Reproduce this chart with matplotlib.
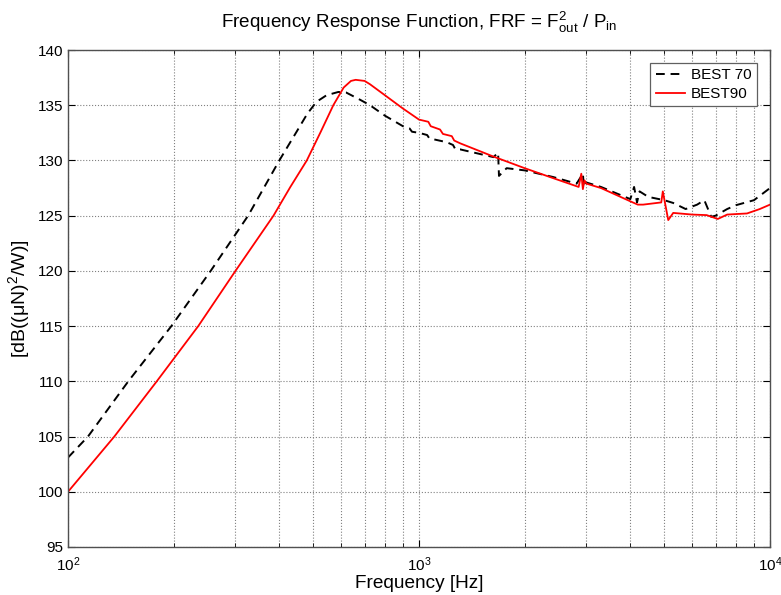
import matplotlib
matplotlib.use("Agg")
import matplotlib.pyplot as plt
from matplotlib.ticker import LogLocator, NullFormatter, MultipleLocator

plt.rcParams['font.family'] = ['Liberation Sans', 'DejaVu Sans']
plt.rcParams['mathtext.fontset'] = 'custom'
plt.rcParams['mathtext.rm'] = 'Liberation Sans'
plt.rcParams['mathtext.it'] = 'Liberation Sans:italic'
plt.rcParams['mathtext.default'] = 'regular'

# BEST 70 measured response
best70_freq = [100, 114, 148.5, 197, 255, 326, 400, 448, 480, 510, 545, 589, 620,
               679, 725, 800, 900, 940, 955, 1000, 1055, 1070, 1200, 1250, 1270,
               1310, 1630, 1680, 1690, 1777, 2000, 2410, 2812, 2930, 2950, 3000,
               3300, 4000, 4100, 4180, 4250, 4500, 5000, 5300, 5750, 6200, 6500,
               6800, 7000, 7550, 8000, 9000, 10000]
best70_db = [103.1, 105.0, 110.0, 115.0, 120.0, 125.0, 130.0, 132.6, 134.2, 135.3,
             135.9, 136.2, 136.15, 135.5, 135.0, 134.05, 133.1, 132.9, 132.6, 132.5,
             132.3, 132.0, 131.65, 131.4, 131.0, 131.0, 130.3, 130.7, 128.6, 129.3,
             129.1, 128.5, 127.9, 128.8, 127.6, 128.0, 127.6, 126.5, 127.6, 126.2,
             127.2, 126.7, 126.4, 126.15, 125.6, 126.0, 126.4, 124.9, 125.0, 125.6,
             125.95, 126.4, 127.5]

# BEST90 measured response
best90_freq = [100, 135.5, 179, 235, 300, 385, 430, 479, 525, 570, 610, 640, 660,
               700, 725, 800, 900, 1000, 1063, 1080, 1148, 1170, 1240, 1260, 1310,
               1630, 2000, 2410, 2850, 2900, 2930, 2960, 3000, 3300, 4000, 4200,
               4350, 4900, 4950, 5130, 5300, 6000, 6600, 7100, 7550, 8600, 9350,
               10000]
best90_db = [100.0, 105.0, 110.0, 115.0, 120.0, 125.0, 127.6, 130.0, 132.6, 135.0,
             136.6, 137.2, 137.3, 137.2, 136.9, 135.9, 134.7, 133.7, 133.5, 133.1,
             132.8, 132.4, 132.2, 131.8, 131.55, 130.35, 129.3, 128.4, 127.6, 128.8,
             127.4, 128.2, 127.9, 127.5, 126.3, 126.0, 126.0, 126.2, 127.2, 124.6,
             125.25, 125.1, 125.05, 124.7, 125.1, 125.2, 125.6, 126.0]

fig = plt.figure(figsize=(7.81, 5.95), dpi=100)
ax = fig.add_axes([68 / 781, 48 / 595, 702 / 781, 497 / 595])

ax.semilogx(best70_freq, best70_db, color='black', lw=1.4,
            linestyle=(0, (4.5, 3)), label='BEST 70')
ax.semilogx(best90_freq, best90_db, color='red', lw=1.3, label='BEST90')

ax.set_xlim(100, 10000)
ax.set_ylim(95, 140)
ax.yaxis.set_major_locator(MultipleLocator(5))
ax.xaxis.set_major_locator(LogLocator(base=10))
ax.xaxis.set_minor_locator(LogLocator(base=10, subs=range(2, 10)))
ax.xaxis.set_minor_formatter(NullFormatter())

ax.grid(True, which='major', axis='both', linestyle=':', color='#808080', lw=0.8)
ax.grid(True, which='minor', axis='x', linestyle=':', color='#808080', lw=0.8)

ax.tick_params(which='both', direction='in', top=True, right=True, labelsize=11)
ax.tick_params(which='major', length=5)
ax.tick_params(which='minor', length=3)
ax.tick_params(axis='x', which='major', pad=6)
for s in ax.spines.values():
    s.set_color('#505050')
    s.set_linewidth(1.0)

ax.set_title(r'Frequency Response Function, FRF = F$_{out}^{2}$ / P$_{in}$',
             fontsize=13.6, pad=16)
ax.set_xlabel('Frequency [Hz]', fontsize=13.7, labelpad=1)
ax.set_ylabel('[dB((μN)$^{2}$/W)]', fontsize=14, labelpad=4)

leg = ax.legend(loc='upper right', bbox_to_anchor=(0.981, 0.974), borderaxespad=0,
                fancybox=False, edgecolor='#606060', framealpha=1, fontsize=11,
                handlelength=1.9, handletextpad=0.4, borderpad=0.35,
                labelspacing=0.3)
leg.get_frame().set_linewidth(0.9)

fig.savefig('out.png', dpi=100, facecolor='white')
